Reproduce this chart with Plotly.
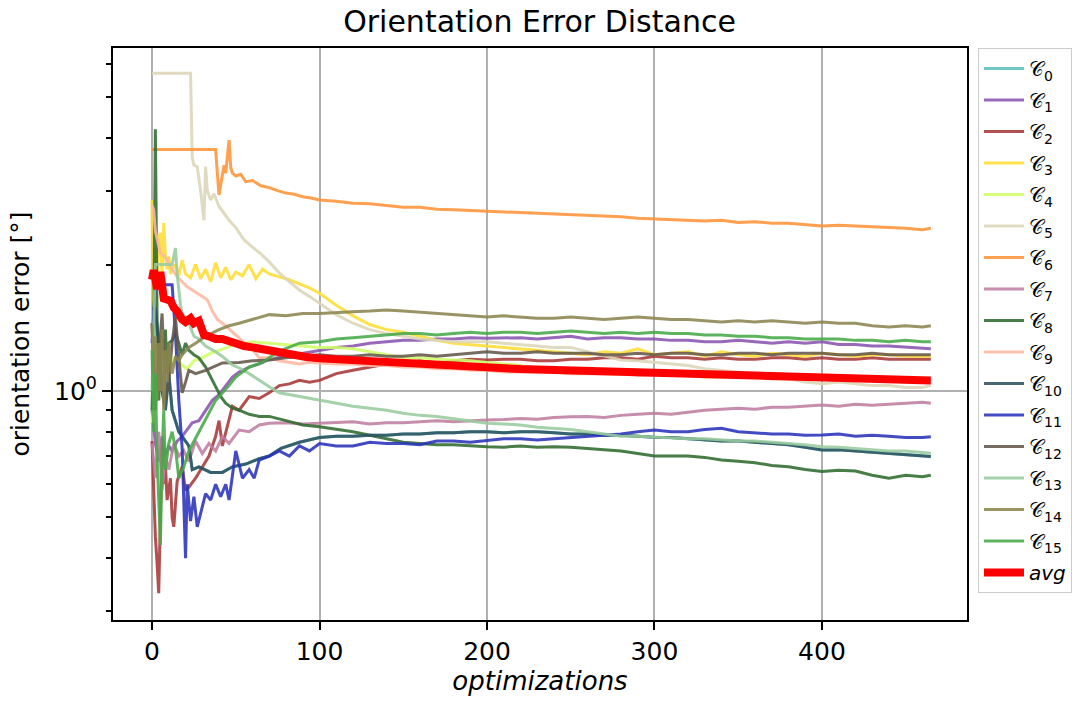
import plotly.graph_objects as go

# ---------------- data ----------------
LATE_X = [100, 110, 120, 130, 140, 150, 160, 170, 180, 190,
          200, 210, 220, 230, 240, 250, 260, 270, 280, 290,
          300, 310, 320, 330, 340, 350, 360, 370, 380, 390,
          400, 410, 420, 430, 440, 450, 460, 465]

NAMES = ["C0", "C1", "C2", "C3", "C4", "C5", "C6", "C7", "C8", "C9", "C10", "C11", "C12", "C13", "C14", "C15"]

C1_X = [0, 2, 4, 6, 8, 10, 12, 15, 18, 20, 24, 28, 32, 36, 40, 44, 48, 52, 58, 64, 70, 80, 90]
C1_Y = [0.9, 0.75, 0.68, 0.78, 0.7, 0.74, 0.72, 0.76, 0.78, 0.8, 0.84, 0.85, 0.9, 0.95, 0.98, 1.03, 1.08, 1.11, 1.14, 1.16, 1.19, 1.21, 1.23]
C1_L = [1.25, 1.27, 1.28, 1.30, 1.31, 1.32, 1.32, 1.33, 1.33, 1.34,
        1.335, 1.34, 1.34, 1.33, 1.34, 1.35, 1.33, 1.34, 1.34, 1.33,
        1.33, 1.32, 1.32, 1.31, 1.31, 1.32, 1.31, 1.30, 1.31, 1.30,
        1.31, 1.29, 1.29, 1.28, 1.28, 1.27, 1.26, 1.26]

C2_X = [0, 1, 2, 3, 4, 5, 6, 7, 8, 9, 10, 11, 12, 13, 15, 18, 20, 22, 26, 30, 34, 38, 40, 42, 45, 48, 52, 58, 64, 70, 76, 82, 88, 94]
C2_Y = [0.76, 0.56, 0.45, 0.39, 0.33, 0.5, 0.74, 0.6, 0.67, 0.55, 0.59, 0.62, 0.5, 0.475, 0.61, 0.66, 0.58, 0.59, 0.62, 0.66, 0.7, 0.78, 0.85, 0.74, 0.82, 0.92, 0.9, 0.97, 0.96, 0.99, 1.03, 1.04, 1.06, 1.05]
C2_L = [1.06, 1.10, 1.12, 1.14, 1.16, 1.17, 1.18, 1.17, 1.18, 1.19,
        1.185, 1.19, 1.19, 1.18, 1.18, 1.19, 1.19, 1.20, 1.20, 1.19,
        1.21, 1.20, 1.20, 1.19, 1.20, 1.19, 1.19, 1.20, 1.20, 1.19,
        1.20, 1.19, 1.19, 1.20, 1.19, 1.19, 1.19, 1.19]

C3_X = [0, 1, 2, 3, 4, 5, 6, 7, 8, 9, 10, 11, 12, 14, 16, 18, 20, 23, 26, 29, 32, 35, 38, 41, 44, 47, 50, 54, 58, 62, 66, 70, 76, 82, 88, 94]
C3_Y = [2.85, 0.84, 2.2, 1.75, 2.3, 2.38, 1.9, 2.51, 2.1, 1.95, 2.09, 1.9, 1.95, 2.0, 1.88, 2.05, 1.9, 1.86, 2.0, 1.85, 1.95, 1.82, 2.02, 1.86, 1.97, 1.84, 1.92, 1.88, 2.0, 1.85, 1.95, 1.9, 1.87, 1.84, 1.8, 1.76]
C3_L = [1.71, 1.60, 1.51, 1.44, 1.40, 1.38, 1.35, 1.32, 1.30, 1.29,
        1.28, 1.27, 1.26, 1.25, 1.24, 1.23, 1.22, 1.24, 1.23, 1.26,
        1.22, 1.23, 1.24, 1.21, 1.24, 1.22, 1.21, 1.23, 1.22, 1.21,
        1.23, 1.22, 1.21, 1.22, 1.22, 1.21, 1.21, 1.21]

C4_X = [0, 2, 4, 6, 8, 10, 12, 15, 18, 21, 25, 30, 35, 40, 45, 50, 55, 60, 70, 80, 90]
C4_Y = [0.84, 1.0, 1.2, 1.35, 1.1, 1.3, 1.15, 1.2, 1.15, 1.13, 1.18, 1.2, 1.23, 1.25, 1.27, 1.3, 1.3, 1.31, 1.3, 1.29, 1.28]
C4_L = [1.27, 1.27, 1.26, 1.24, 1.22, 1.20, 1.20, 1.19, 1.185, 1.18,
        1.17, 1.16, 1.15, 1.13, 1.12, 1.12, 1.11, 1.10, 1.10, 1.10,
        1.10, 1.09, 1.09, 1.08, 1.08, 1.08, 1.08, 1.07, 1.07, 1.07,
        1.07, 1.06, 1.06, 1.06, 1.06, 1.05, 1.05, 1.05]

C5_X = [0, 23, 24, 25, 27, 29, 31, 32, 33, 35, 37, 40, 43, 46, 50, 55, 60, 65, 70, 76, 82, 88, 94]
C5_Y = [5.71, 5.71, 3.6, 3.45, 3.42, 3.0, 2.55, 3.42, 3.0, 2.85, 2.95, 2.75, 2.65, 2.55, 2.45, 2.29, 2.2, 2.12, 2.03, 1.91, 1.82, 1.74, 1.68]
C5_L = [1.62, 1.52, 1.45, 1.40, 1.37, 1.35, 1.33, 1.32, 1.31, 1.31,
        1.31, 1.30, 1.29, 1.28, 1.27, 1.27, 1.24, 1.21, 1.185, 1.18,
        1.17, 1.16, 1.15, 1.13, 1.12, 1.11, 1.10, 1.08, 1.07, 1.05,
        1.04, 1.05, 1.04, 1.03, 1.03, 1.02, 1.02, 1.03]

C6_X = [0, 38, 39, 40, 41, 42, 43, 44, 45, 46, 47, 48, 50, 53, 56, 60, 65, 70, 75, 80, 85, 90, 95]
C6_Y = [3.76, 3.76, 3.3, 2.93, 3.1, 3.3, 3.45, 3.3, 3.6, 3.96, 3.4, 3.3, 3.25, 3.28, 3.15, 3.17, 3.08, 3.05, 3.0, 2.96, 2.94, 2.9, 2.88]
C6_L = [2.85, 2.83, 2.80, 2.79, 2.76, 2.74, 2.74, 2.71, 2.70, 2.69,
        2.67, 2.66, 2.66, 2.65, 2.64, 2.63, 2.61, 2.61, 2.60, 2.58,
        2.57, 2.57, 2.56, 2.54, 2.55, 2.52, 2.53, 2.51, 2.51, 2.49,
        2.47, 2.48, 2.47, 2.46, 2.45, 2.44, 2.42, 2.44]

C7_X = [0, 2, 4, 6, 8, 10, 13, 16, 19, 22, 26, 30, 34, 38, 42, 46, 52, 58, 64, 70, 80, 90]
C7_Y = [0.75, 0.62, 0.8, 0.58, 0.7, 0.65, 0.75, 0.7, 0.72, 0.68, 0.76, 0.71, 0.75, 0.72, 0.78, 0.75, 0.807, 0.8, 0.83, 0.838, 0.84, 0.835]
C7_L = [0.838, 0.84, 0.845, 0.835, 0.84, 0.84, 0.845, 0.85, 0.845, 0.85,
        0.853, 0.855, 0.86, 0.857, 0.865, 0.868, 0.87, 0.865, 0.875, 0.88,
        0.885, 0.88, 0.89, 0.90, 0.905, 0.91, 0.905, 0.915, 0.915, 0.92,
        0.926, 0.92, 0.93, 0.925, 0.93, 0.935, 0.94, 0.935]

C8_X = [0, 1, 2, 3, 4, 5, 6, 7, 8, 9, 10, 12, 14, 16, 18, 20, 22, 25, 28, 32, 35, 38, 41, 44, 48, 52, 58, 64, 70, 80, 90]
C8_Y = [0.9, 1.3, 4.2, 1.5, 0.95, 1.2, 1.35, 1.25, 1.4, 1.1, 1.3, 1.32, 1.38, 1.3, 1.22, 1.3, 1.25, 1.22, 1.2, 1.14, 1.08, 1.02, 0.97, 0.935, 0.91, 0.90, 0.88, 0.87, 0.87, 0.85, 0.83]
C8_L = [0.822, 0.81, 0.80, 0.785, 0.77, 0.755, 0.75, 0.745, 0.745, 0.74,
        0.737, 0.735, 0.74, 0.735, 0.737, 0.735, 0.73, 0.725, 0.72, 0.71,
        0.70, 0.70, 0.70, 0.695, 0.685, 0.68, 0.675, 0.665, 0.66, 0.65,
        0.643, 0.648, 0.645, 0.63, 0.62, 0.63, 0.625, 0.63]

C9_X = [0, 1, 2, 3, 5, 7, 9, 12, 15, 18, 21, 24, 27, 30, 33, 36, 39, 42, 45, 48, 51, 55, 59, 64, 70, 76, 82, 88, 94]
C9_Y = [2.77, 2.7, 2.4, 2.3, 2.13, 2.1, 2.05, 1.95, 1.87, 1.82, 1.77, 1.74, 1.71, 1.68, 1.65, 1.55, 1.48, 1.45, 1.42, 1.38, 1.35, 1.30, 1.27, 1.2, 1.2, 1.18, 1.17, 1.16, 1.17]
C9_L = [1.166, 1.16, 1.16, 1.15, 1.15, 1.14, 1.14, 1.13, 1.13, 1.12,
        1.12, 1.11, 1.11, 1.11, 1.11, 1.10, 1.10, 1.10, 1.10, 1.09,
        1.09, 1.09, 1.09, 1.08, 1.08, 1.08, 1.08, 1.07, 1.07, 1.07,
        1.07, 1.06, 1.06, 1.06, 1.06, 1.05, 1.05, 1.05]

C10_X = [0, 2, 4, 6, 8, 10, 12, 14, 16, 18, 20, 22, 24, 28, 35, 42, 48, 56, 64, 70, 77, 88]
C10_Y = [1.57, 1.57, 1.3, 1.0, 0.9, 1.1, 0.9, 0.85, 0.8, 0.78, 0.76, 0.74, 0.65, 0.66, 0.64, 0.64, 0.66, 0.67, 0.69, 0.70, 0.73, 0.755]
C10_L = [0.775, 0.78, 0.78, 0.785, 0.785, 0.79, 0.79, 0.795, 0.795, 0.80,
         0.80, 0.795, 0.80, 0.80, 0.795, 0.79, 0.79, 0.785, 0.785, 0.78,
         0.776, 0.775, 0.77, 0.765, 0.76, 0.76, 0.755, 0.75, 0.745, 0.735,
         0.724, 0.725, 0.72, 0.715, 0.71, 0.705, 0.70, 0.698]

# C0 is not visible in the reference: it lies under C10
C0_X = C10_X
C0_Y = C10_Y
C0_L = C10_L

C11_X = [0, 2, 12, 13, 14, 16, 18, 20, 21, 23, 25, 27, 29, 32, 35, 38, 41, 44, 46, 48, 50, 54, 58, 61, 64, 70, 76, 82, 88, 94]
C11_Y = [1.3, 1.79, 1.79, 1.6, 1.37, 0.95, 0.73, 0.40, 0.6, 0.49, 0.56, 0.475, 0.51, 0.57, 0.55, 0.60, 0.56, 0.6, 0.55, 0.63, 0.72, 0.62, 0.65, 0.62, 0.685, 0.70, 0.72, 0.70, 0.74, 0.72]
C11_L = [0.75, 0.74, 0.74, 0.755, 0.75, 0.75, 0.745, 0.76, 0.76, 0.755,
         0.764, 0.77, 0.77, 0.765, 0.77, 0.775, 0.78, 0.785, 0.79, 0.80,
         0.807, 0.80, 0.80, 0.81, 0.815, 0.80, 0.795, 0.79, 0.79, 0.785,
         0.786, 0.79, 0.78, 0.785, 0.78, 0.775, 0.775, 0.778]

C12_X = [0, 2, 4, 6, 8, 10, 12, 14, 16, 18, 20, 22, 26, 32, 42, 52, 60, 70, 80, 90]
C12_Y = [1.45, 0.9, 1.2, 1.53, 0.95, 1.06, 1.3, 1.5, 1.2, 0.99, 1.05, 1.12, 1.1, 1.12, 1.166, 1.17, 1.18, 1.185, 1.2, 1.21]
C12_L = [1.22, 1.21, 1.21, 1.22, 1.21, 1.21, 1.22, 1.21, 1.22, 1.23,
         1.24, 1.23, 1.23, 1.24, 1.23, 1.23, 1.23, 1.22, 1.22, 1.23,
         1.22, 1.23, 1.23, 1.22, 1.22, 1.23, 1.23, 1.22, 1.23, 1.23,
         1.23, 1.22, 1.22, 1.23, 1.22, 1.22, 1.22, 1.22]

C13_X = [0, 1, 2, 12, 13, 14, 15, 16, 17, 18, 20, 22, 25, 28, 32, 38, 43, 48, 53, 58, 64, 70, 76, 82, 88, 94]
C13_Y = [1.0, 1.4, 2.0, 2.0, 2.1, 2.19, 1.9, 1.71, 1.6, 1.53, 1.5, 1.45, 1.35, 1.33, 1.28, 1.24, 1.2, 1.153, 1.13, 1.10, 1.06, 1.024, 0.99, 0.98, 0.97, 0.96]
C13_L = [0.952, 0.935, 0.92, 0.91, 0.90, 0.885, 0.875, 0.87, 0.86, 0.85,
         0.838, 0.835, 0.83, 0.82, 0.815, 0.81, 0.80, 0.79, 0.78, 0.78,
         0.776, 0.775, 0.77, 0.77, 0.765, 0.76, 0.76, 0.755, 0.75, 0.745,
         0.737, 0.735, 0.73, 0.725, 0.72, 0.72, 0.715, 0.711]

C14_X = [0, 1, 2, 3, 4, 5, 6, 7, 8, 9, 10, 12, 14, 16, 18, 22, 26, 32, 40, 46, 52, 60, 70, 80, 90]
C14_Y = [1.44, 1.1, 1.35, 0.95, 1.3, 1.0, 1.4, 0.9, 1.25, 1.05, 1.3, 1.1, 1.21, 1.18, 1.22, 1.27, 1.3, 1.35, 1.40, 1.43, 1.45, 1.48, 1.52, 1.51, 1.53]
C14_L = [1.53, 1.54, 1.545, 1.55, 1.56, 1.55, 1.54, 1.53, 1.52, 1.51,
         1.50, 1.51, 1.50, 1.49, 1.49, 1.50, 1.49, 1.48, 1.49, 1.50,
         1.49, 1.48, 1.48, 1.47, 1.46, 1.47, 1.46, 1.47, 1.46, 1.45,
         1.46, 1.45, 1.45, 1.43, 1.42, 1.43, 1.42, 1.43]

C15_X = [0, 1, 2, 3, 4, 5, 6, 7, 8, 10, 12, 14, 16, 19, 22, 28, 34, 38, 45, 50, 58, 66, 75, 88]
C15_Y = [1.25, 0.8, 1.1, 0.7, 0.55, 0.43, 0.7, 0.9, 0.65, 0.75, 0.8, 0.73, 0.62, 0.66, 0.72, 0.80, 0.89, 0.95, 1.02, 1.08, 1.14, 1.17, 1.24, 1.30]
C15_L = [1.31, 1.33, 1.34, 1.35, 1.36, 1.37, 1.37, 1.36, 1.37, 1.38,
         1.37, 1.38, 1.38, 1.37, 1.38, 1.39, 1.38, 1.37, 1.38, 1.37,
         1.38, 1.37, 1.37, 1.36, 1.36, 1.35, 1.35, 1.34, 1.34, 1.33,
         1.33, 1.33, 1.32, 1.32, 1.31, 1.32, 1.31, 1.31]

AVG_X = [0, 1, 3, 5, 7, 9, 11, 13, 15, 18, 20, 23, 25, 28, 31, 34, 38, 42, 46, 50, 55, 60, 66, 72, 78, 85, 92]
AVG_Y = [1.84, 1.94, 1.75, 1.92, 1.66, 1.65, 1.64, 1.58, 1.55, 1.48, 1.46, 1.49, 1.45, 1.47, 1.36, 1.35, 1.33, 1.33, 1.31, 1.30, 1.28, 1.27, 1.255, 1.245, 1.235, 1.22, 1.205]
AVG_L = [1.196, 1.19, 1.18, 1.17, 1.165, 1.158, 1.153, 1.147, 1.142, 1.137,
         1.132, 1.13, 1.128, 1.125, 1.122, 1.12, 1.118, 1.115, 1.112, 1.109,
         1.106, 1.103, 1.10, 1.097, 1.095, 1.092, 1.09, 1.086, 1.083, 1.08,
         1.076, 1.074, 1.072, 1.07, 1.067, 1.064, 1.062, 1.06]

COLORS = ["#5cbfbf", "#8a55b0", "#a83838", "#ffdd33", "#d0ff66", "#dcd7b8",
          "#ff9438", "#bf7fa0", "#2f6c2f", "#ffb8a0", "#2f5260", "#2a33bb",
          "#65574b", "#99cc9f", "#8c8650", "#48aa48"]

SERIES_X = [C0_X, C1_X, C2_X, C3_X, C4_X, C5_X, C6_X, C7_X, C8_X, C9_X, C10_X, C11_X, C12_X, C13_X, C14_X, C15_X]
SERIES_Y = [C0_Y, C1_Y, C2_Y, C3_Y, C4_Y, C5_Y, C6_Y, C7_Y, C8_Y, C9_Y, C10_Y, C11_Y, C12_Y, C13_Y, C14_Y, C15_Y]
SERIES_L = [C0_L, C1_L, C2_L, C3_L, C4_L, C5_L, C6_L, C7_L, C8_L, C9_L, C10_L, C11_L, C12_L, C13_L, C14_L, C15_L]

Y_TICKVALS = [1]
Y_TICKTEXT = ["10<sup>0</sup>"]
Y_MINOR = [0.3, 0.4, 0.5, 0.6, 0.7, 0.8, 0.9, 2, 3, 4, 5, 6]
X_TICKS = [0, 100, 200, 300, 400]

# ---------------- figure ----------------
FONT = "DejaVu Sans"
fig = go.Figure()

for i, name in enumerate(NAMES):
    n = min(len(LATE_X), len(SERIES_L[i]))
    xs = SERIES_X[i] + LATE_X[:n]
    ys = SERIES_Y[i] + SERIES_L[i][:n]
    label = "𝒞<sub>" + name[1:] + "</sub>"
    fig.add_trace(go.Scatter(
        x=xs, y=ys, mode="lines", name=label,
        line=dict(color=COLORS[i], width=3),
        opacity=0.88, legendgroup=name,
    ))

n_avg = min(len(LATE_X), len(AVG_L))
fig.add_trace(go.Scatter(
    x=AVG_X + LATE_X[:n_avg], y=AVG_Y + AVG_L[:n_avg], mode="lines", name="<i>avg</i>",
    line=dict(color="#ff0000", width=8), legendgroup="avg",
))

fig.update_layout(
    width=1079, height=704,
    margin=dict(l=113, r=112, t=48, b=84, autoexpand=False),
    paper_bgcolor="white", plot_bgcolor="white",
    font=dict(family=FONT, color="black"),
    title=dict(text="Orientation Error Distance", x=0.5, xanchor="center",
               y=1 - 21 / 704, yanchor="middle", font=dict(size=30, family=FONT)),
    showlegend=True,
    legend=dict(x=(978 - 113) / 854, xanchor="left", y=1.0, yanchor="top",
                bordercolor="#cccccc", borderwidth=1, bgcolor="white",
                font=dict(size=20, family=FONT), tracegroupgap=2.5,
                entrywidth=52, itemwidth=40),
    xaxis=dict(range=[-23.3, 486.6], tickvals=X_TICKS, ticks="outside", ticklen=8,
               tickwidth=2, tickcolor="black", showgrid=True, gridcolor="#b0b0b0",
               gridwidth=2, zeroline=False, showline=True, linecolor="black",
               linewidth=2, mirror=True, tickfont=dict(size=25, family=FONT),
               automargin=False,
               title=dict(text="<i>optimizations</i>", font=dict(size=26, family=FONT), standoff=7)),
    yaxis=dict(type="log", range=[-0.5452, 0.8167], tickvals=Y_TICKVALS, ticktext=Y_TICKTEXT,
               ticks="outside", ticklen=9, tickwidth=2, tickcolor="black",
               showgrid=True, gridcolor="#b0b0b0", gridwidth=2, zeroline=False,
               showline=True, linecolor="black", linewidth=2, mirror=True,
               tickfont=dict(size=25, family=FONT), automargin=False,
               minor=dict(tickvals=Y_MINOR, ticks="outside", ticklen=5, tickwidth=1.5,
                          tickcolor="black", showgrid=False),
               title=dict(text="orientation error [°]", font=dict(size=25, family=FONT), standoff=17)),
)

fig.write_html("out.html", config={"displayModeBar": False},
               post_script="document.body.style.margin='0';document.body.style.overflow='hidden';")
